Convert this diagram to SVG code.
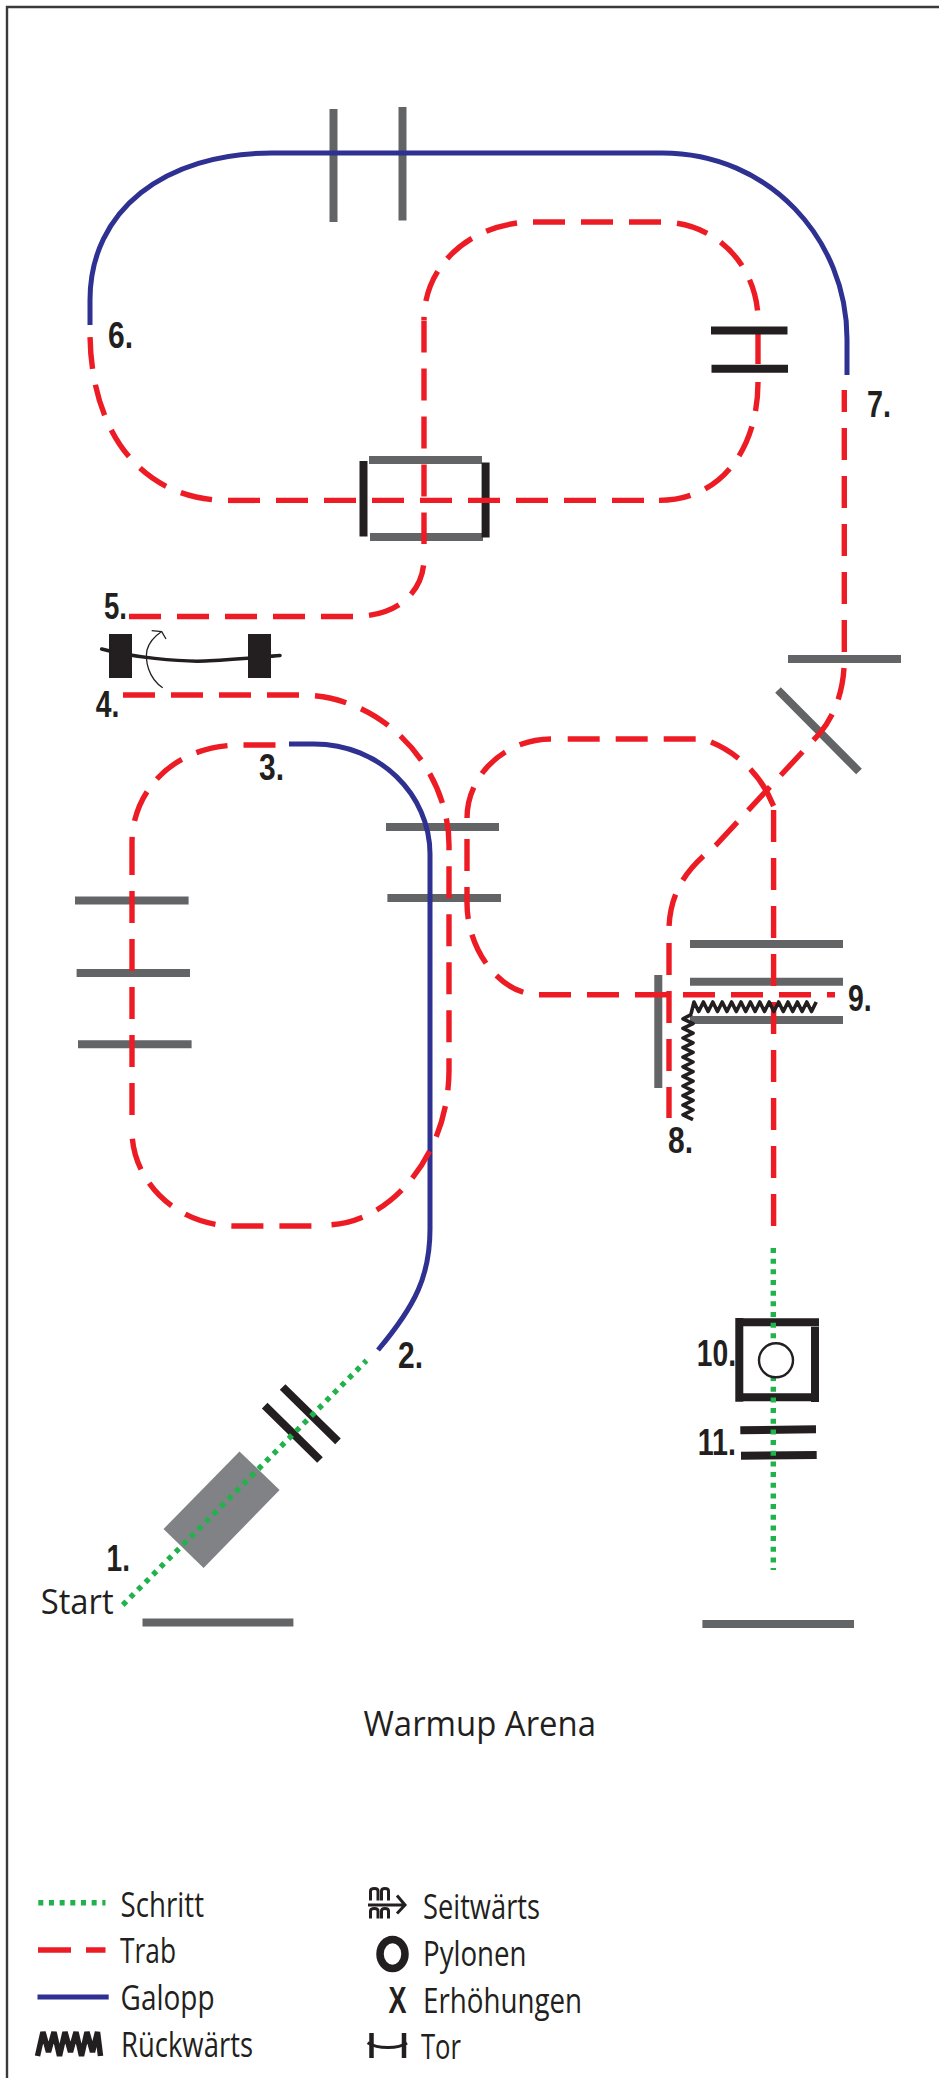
<svg xmlns="http://www.w3.org/2000/svg" width="939" height="2078" viewBox="0 0 939 2078">
<style>
.bg{fill:#fff}
.frame{fill:none;stroke:#3a3a3a;stroke-width:2.4}
.gray{stroke:#636466;stroke-width:8;fill:none}
.blk{stroke:#231f20;stroke-width:8;fill:none}
.trab{stroke:#ed1c24;stroke-width:5.4;fill:none;stroke-dasharray:32 16}
.off{stroke-dashoffset:32}
.solidred{stroke:#ed1c24;stroke-width:5.4;fill:none}
.galopp{stroke:#2e3192;stroke-width:5;fill:none}
.schritt{stroke:#22b24c;stroke-width:5.4;fill:none;stroke-dasharray:5 5.67}
.zig{stroke:#231f20;stroke-width:3.6;fill:none;stroke-linejoin:round}
.num{font-family:"Liberation Sans",Arial,sans-serif;font-weight:700;font-size:36px;fill:#231f20}
.lbl{font-family:"Open Sans","Liberation Sans",sans-serif;font-size:35px;fill:#231f20}
</style>
<rect class="bg" width="939" height="2078"/>
<path class="frame" d="M939 7H7V2078"/>

<g id="obstacles">
<path class="gray" d="M333.5 109V222M402.5 107V220.500"/>
<path class="gray" d="M369 460H482M370 537H483"/>
<path class="gray" d="M788 659H901M778 690L859 771.500"/>
<path class="gray" d="M75 900.500H188.600M76.600 973H190M78 1044.300H191.600"/>
<path class="gray" d="M386 827H499M387.400 898H501"/>
<path class="gray" d="M690 944H843M690 981.700H843M690 1020H843M658.300 975V1088"/>
<path class="gray" d="M142.500 1622.600H293.400M702.400 1624H854"/>
<polygon fill="#808285" points="239.500,1451.400 279.600,1490 203.600,1568 163.500,1529"/>
</g>

<g id="box-black">
<path class="blk" d="M363.500 461V536.600M485.600 462.500V537.500"/>
</g>

<g id="gate-start">
<path class="blk" stroke-width="7" d="M282.600 1387L338 1441.400M264.700 1405.700L320 1460"/>
</g>

<g id="box-10-frame">
<path class="blk" d="M739.300 1318V1401.700M743 1322.300H819M815 1326.700V1402M736 1397.300H811.700"/>
</g>
<g id="gate-11">
<path class="blk" d="M740.300 1430.300L816 1429.300M741 1455.700L816.700 1455"/>
</g>

<g id="connectors">
<path class="schritt" d="M122.800 1605L366.500 1360.500"/>
<path class="schritt" d="M773.300 1248V1570"/>
<path class="galopp" d="M90 325V300C90 210 165 153 272 153H662C770 153 847 240 847 339V375"/>
<path class="galopp" d="M289 744H314C380 744 430 795 430 854V1229C430 1275 416 1305 378 1350"/>

<path class="trab" d="M129 616.500H353C400 616.500 424 590 424 558"/>
<path class="trab" d="M424 320.500V544"/>
<path class="trab off" d="M533 222C475 222 424 262 424 320"/>
<path class="trab" d="M533 222H661"/>
<path class="trab off" d="M661 222C720 222 758 270 758 320"/>
<path class="solidred" d="M758 332V364"/>
<path class="trab" d="M659 500.400C720 500.400 758 450 758 382"/>
<path class="trab" d="M228 500.400H659"/>
<path class="trab off" d="M228 500.400C140 500.400 90 430 90 332"/>

<path class="trab" d="M275.500 745H240C175 745 132 790 132 843"/>
<path class="trab" d="M132 843V1115"/>
<path class="trab" d="M311.400 1226H235C175 1226 132 1180 132 1131"/>
<path class="trab" d="M123 695H300C385 695 449 770 449 845V1070C449 1155 390 1224 327 1225"/>

<path class="trab" stroke-dashoffset="10" d="M844.300 390V660C844 690 835 715 820 733L716 845C700 859 671 880 669 927"/>
<path class="trab" d="M669 943V1118"/>

<path class="trab" d="M539 994.700H835"/>
<path class="trab off" d="M539 994.700C500 994.700 467 950 467 903V825"/>
<path class="trab" d="M551 739C505 739 467 775 467 818"/>
<path class="trab" d="M567.700 739H695.700"/>
<path class="trab" d="M711 742C735 752 755 770 767 792"/>
<path class="solidred" d="M767 792L773.600 806"/>
<path class="trab" d="M773.600 810V1227"/>
</g>

<g id="reverse-zigzag">
<path class="zig" d="M691 1014L694 1002l4.700 9.500l4.700-9.500l4.700 9.500l4.700-9.500l4.700 9.500l4.700-9.500l4.700 9.500l4.700-9.500l4.700 9.500l4.700-9.500l4.700 9.500l4.700-9.500l4.700 9.500l4.700-9.500l4.700 9.500l4.700-9.500l4.700 9.500l4.700-9.500l4.700 9.500l4.700-9.500l4.700 9.500l4.700-9.500l4.700 9.500l4.700-9.500l4.700 9.500l4.700-9.500"/>
<path class="zig" d="M692 1014l-9 4.800l10 4.800l-10 4.800l10 4.800l-10 4.800l10 4.800l-10 4.800l10 4.800l-10 4.800l10 4.800l-10 4.800l10 4.800l-10 4.800l10 4.800l-10 4.800l10 4.800l-10 4.800l10 4.800l-10 4.800l10 4.800l-10 4.800l10 4.800"/>
</g>

<g id="gate-h">
<path class="blk" d="M711 330.400H787.500M711.500 368.800H788"/>
</g>

<g id="tor">
<path stroke="#231f20" stroke-width="3.500" fill="none" stroke-linecap="round" d="M101.700 649C130 657 180 662 205 661C230 660 260 657 280 655.500"/>
<rect x="109" y="634" width="23" height="44" fill="#231f20"/>
<rect x="248" y="634" width="23" height="44" fill="#231f20"/>
<path stroke="#231f20" stroke-width="1.300" fill="none" d="M162.700 687.700C148 678 145 660 147 650C149 643 155 636 161 632M151.700 630.700L161.700 631.700L166 639"/>
</g>

<g id="pylon-10">
<circle cx="776" cy="1360.300" r="17" fill="#fff" stroke="#231f20" stroke-width="2.400"/>
</g>

<g id="labels">
<text class="num" x="104" y="619" textLength="23" lengthAdjust="spacingAndGlyphs">5.</text>
<text class="num" x="95.700" y="717" textLength="23.600" lengthAdjust="spacingAndGlyphs">4.</text>
<text class="num" x="108" y="348" textLength="25" lengthAdjust="spacingAndGlyphs">6.</text>
<text class="num" x="867" y="417" textLength="24" lengthAdjust="spacingAndGlyphs">7.</text>
<text class="num" x="259" y="780" textLength="25" lengthAdjust="spacingAndGlyphs">3.</text>
<text class="num" x="668" y="1153" textLength="25" lengthAdjust="spacingAndGlyphs">8.</text>
<text class="num" x="848" y="1010.700" textLength="23.700" lengthAdjust="spacingAndGlyphs">9.</text>
<text class="num" x="398" y="1368" textLength="25" lengthAdjust="spacingAndGlyphs">2.</text>
<text class="num" x="696.700" y="1366" textLength="39.300" lengthAdjust="spacingAndGlyphs">10.</text>
<text class="num" x="697.700" y="1455" textLength="38.300" lengthAdjust="spacingAndGlyphs">11.</text>
<text class="num" x="106.600" y="1570.500" textLength="23.400" lengthAdjust="spacingAndGlyphs">1.</text>
<text class="lbl" x="40.700" y="1614" textLength="73" lengthAdjust="spacingAndGlyphs">Start</text>
<text class="lbl" x="363.500" y="1735.700" textLength="232.500" lengthAdjust="spacingAndGlyphs">Warmup Arena</text>
</g>

<g id="legend">
<path class="schritt" d="M38.300 1902.700H105.500"/>
<path class="solidred" d="M38 1950H71M86 1950H105.500"/>
<path class="galopp" d="M37.500 1997H108.700"/>
<path stroke="#231f20" stroke-width="5.500" fill="none" stroke-linejoin="bevel" d="M37.500 2056L43 2032L48.500 2052L54 2032L59.500 2056L65 2032L70.500 2052L76 2032L81.500 2056L87 2032L92.500 2052L97.500 2032L100.500 2056"/>
<text class="lbl" x="120.600" y="1916.700" textLength="83.400" lengthAdjust="spacingAndGlyphs">Schritt</text>
<text class="lbl" x="120" y="1963" textLength="56" lengthAdjust="spacingAndGlyphs">Trab</text>
<text class="lbl" x="120.600" y="2010" textLength="94" lengthAdjust="spacingAndGlyphs">Galopp</text>
<text class="lbl" x="121" y="2056.700" textLength="132" lengthAdjust="spacingAndGlyphs">Rückwärts</text>
<path stroke="#231f20" stroke-width="3" fill="none" d="M368 1905H405M397 1895.500L405 1905L397 1913.500M370.500 1900.500V1891Q370.500 1888.500 374.500 1888.500Q378 1888.500 378 1891V1900.500M381.500 1900.500V1891Q381.500 1888.500 385 1888.500Q388.500 1888.500 388.500 1891V1900.500M370.500 1918.500V1911Q370.500 1908.500 374.500 1908.500Q378 1908.500 378 1911V1918.500M381.500 1918.500V1911Q381.500 1908.500 385 1908.500Q388.500 1908.500 388.500 1911V1918.500"/>
<ellipse cx="392.500" cy="1954" rx="12.500" ry="14.500" fill="none" stroke="#231f20" stroke-width="7.500"/>
<text x="388.500" y="2012.700" textLength="18" lengthAdjust="spacingAndGlyphs" class="num">X</text>
<path stroke="#231f20" stroke-width="4.500" fill="none" d="M371.500 2033V2058M404 2033V2058"/>
<path stroke="#231f20" stroke-width="3" fill="none" d="M367.600 2042.700C378 2049 398 2049 407 2043"/>
<text class="lbl" x="423" y="1919" textLength="117" lengthAdjust="spacingAndGlyphs">Seitwärts</text>
<text class="lbl" x="423" y="1966" textLength="103.500" lengthAdjust="spacingAndGlyphs">Pylonen</text>
<text class="lbl" x="423" y="2012.700" textLength="159" lengthAdjust="spacingAndGlyphs">Erhöhungen</text>
<text class="lbl" x="421" y="2059" textLength="40" lengthAdjust="spacingAndGlyphs">Tor</text>
</g>
</svg>
